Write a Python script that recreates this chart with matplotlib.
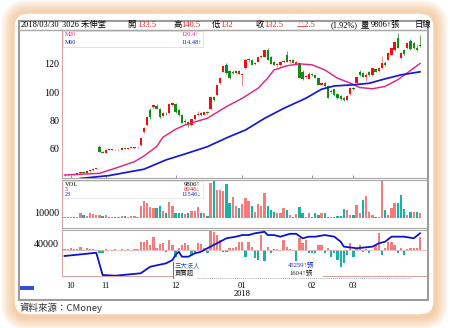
import matplotlib.pyplot as plt
from matplotlib.patches import Rectangle, FancyBboxPatch
from matplotlib.transforms import blended_transform_factory

# 3026 禾伸堂 daily bars, mid Oct 2017 .. 2018/03/30 (index = trading day)
opens = [41.5, 41.6, 41.8, 42.3, 42.1, 42.8, 43.6, 43.3, 44.2, 44.9,
         46.2, 61.6, 58.1, 57.3, 59.5, 59.4, 59.6, 59.2, 59.5, 60.6,
         60.0, 60.8, 60.7, 61.2, 62.5, 72.0, 77.0, 87.5, 89.5, 90.5,
         88.5, 83.0, 85.0, 85.5, 91.0, 92.0, 87.5, 84.0, 80.0, 79.0,
         77.0, 81.0, 84.0, 85.5, 84.2, 86.0, 88.0, 96.7, 98.0, 106.5,
         114.5, 119.4, 115.0, 114.5, 113.5, 115.2, 112.5, 117.0, 122.5, 123.0,
         119.8, 121.7, 125.0, 125.2, 130.0, 125.0, 121.5, 119.2, 119.0, 121.5,
         126.5, 122.0, 123.0, 120.2, 120.8, 114.5, 110.8, 109.6, 113.0, 112.3,
         110.2, 105.5, 106.6, 104.3, 100.0, 102.0, 98.6, 97.5, 96.3, 94.5,
         98.6, 103.0, 106.6, 114.5, 113.5, 111.0, 114.0, 112.0, 116.5, 114.8,
         117.0, 121.0, 122.9, 126.4, 130.0, 138.4, 124.3, 130.0, 131.0, 136.0,
         134.5, 131.0, 133.5]
highs = [42.0, 42.2, 42.5, 42.8, 43.0, 44.0, 44.0, 44.5, 45.2, 46.5,
         46.8, 62.5, 58.6, 59.9, 60.0, 59.9, 60.0, 59.8, 61.0, 60.9,
         60.6, 61.5, 61.4, 62.0, 68.5, 75.5, 82.6, 89.0, 92.0, 91.5,
         89.0, 85.8, 86.0, 92.0, 93.0, 92.5, 88.0, 84.5, 81.0, 79.5,
         81.5, 84.5, 87.0, 86.0, 86.2, 87.0, 97.0, 97.5, 105.5, 110.5,
         119.0, 120.5, 116.0, 115.5, 116.0, 115.8, 113.8, 123.2, 124.0, 123.6,
         121.2, 125.5, 126.0, 130.5, 131.0, 125.5, 122.0, 120.5, 122.2, 123.0,
         129.0, 123.0, 123.5, 122.0, 121.2, 116.0, 112.0, 114.0, 113.6, 113.0,
         110.8, 107.2, 107.0, 105.0, 102.0, 102.5, 99.5, 98.0, 97.0, 97.8,
         103.5, 104.0, 111.5, 115.5, 114.5, 113.5, 115.0, 117.5, 117.0, 118.0,
         125.5, 121.8, 128.2, 132.0, 136.0, 142.0, 128.5, 130.5, 135.0, 137.5,
         135.5, 133.5, 140.5]
lows = [41.0, 41.2, 41.5, 41.9, 41.9, 42.6, 43.0, 43.1, 44.0, 44.7,
        45.8, 57.8, 56.8, 57.0, 59.0, 59.0, 59.0, 58.8, 59.3, 59.8,
        59.7, 60.5, 60.3, 60.8, 62.3, 71.5, 76.5, 81.5, 89.0, 88.0,
        82.0, 82.5, 84.0, 85.0, 90.0, 85.5, 83.5, 78.0, 78.5, 75.6,
        76.5, 80.5, 83.5, 83.5, 83.8, 85.0, 87.5, 94.0, 97.5, 106.0,
        114.0, 113.0, 109.5, 113.0, 113.0, 112.8, 104.6, 116.5, 121.5, 119.0,
        119.2, 121.5, 124.0, 124.8, 122.5, 119.8, 119.0, 118.2, 118.5, 121.0,
        121.2, 121.0, 120.5, 119.5, 109.8, 109.0, 110.0, 109.2, 111.5, 110.0,
        105.0, 105.0, 104.0, 95.8, 99.5, 97.5, 95.5, 94.5, 94.0, 93.6,
        98.0, 101.5, 106.0, 111.5, 110.5, 108.0, 111.5, 111.5, 114.0, 114.5,
        116.5, 118.8, 122.5, 126.0, 129.5, 131.0, 123.5, 126.5, 130.5, 130.0,
        130.5, 129.5, 132.0]
closes = [41.6, 41.8, 42.3, 42.1, 42.8, 43.6, 43.3, 44.2, 44.9, 46.2,
          46.4, 58.1, 57.2, 59.6, 59.4, 59.6, 59.2, 59.5, 60.6, 60.0,
          60.3, 60.7, 61.2, 61.5, 68.0, 75.0, 82.5, 82.5, 90.8, 88.5,
          82.8, 85.2, 84.6, 91.8, 92.5, 86.0, 84.0, 78.3, 79.0, 77.0,
          81.0, 84.0, 84.8, 84.0, 86.0, 85.5, 96.7, 94.5, 105.4, 110.0,
          118.5, 113.5, 110.2, 113.6, 115.0, 113.0, 113.2, 122.9, 123.2, 119.4,
          120.8, 125.0, 125.5, 130.0, 123.0, 120.2, 119.4, 119.8, 121.7, 122.4,
          121.7, 122.5, 120.8, 121.5, 110.2, 109.6, 111.2, 113.0, 112.0, 110.2,
          105.4, 106.6, 104.3, 96.1, 101.0, 98.0, 96.0, 95.0, 94.5, 97.5,
          103.0, 102.0, 111.0, 112.0, 111.0, 112.0, 112.0, 117.0, 114.6, 117.5,
          120.8, 119.4, 127.8, 131.4, 135.6, 131.4, 127.8, 127.0, 134.5, 130.5,
          131.0, 130.0, 132.5]
volumes = [1500, 1200, 2000, 1500, 2500, 11000, 6000, 4000, 9000, 8000,
           6000, 6500, 4500, 5000, 2500, 2000, 2500, 2000, 4500, 3000,
           2500, 3500, 3000, 2500, 26000, 36000, 31000, 22000, 20000, 20000,
           26000, 15000, 10000, 33000, 26000, 10000, 10000, 11000, 8000, 11000,
           15000, 14000, 23000, 10000, 9000, 4000, 75000, 78000, 59000, 59000,
           57000, 73000, 32000, 44000, 24000, 20000, 30000, 41000, 35000, 26000,
           13000, 30000, 26000, 52000, 24000, 17000, 13000, 11000, 11000, 21000,
           16000, 6000, 2000, 8000, 23000, 10600, 2100, 9000, 2100, 9000,
           5700, 9000, 9000, 2100, 2100, 2100, 3500, 3500, 17700, 16300,
           5700, 5700, 27000, 10600, 37000, 46000, 12800, 5700, 2100, 1500,
           80000, 16300, 5700, 19800, 30500, 30500, 48000, 17700, 5700, 12800,
           12800, 12800, 9806]
# 三大法人買賣超 (張)
inst_net = [100, 150, 200, 100, 150, 400, -100, 200, 100, 150,
            -80, -400, -400, 150, 60, -60, 80, 50, 120, -60,
            80, 50, 100, 120, 1000, 1000, 1200, 600, 1600, 300,
            700, 800, -200, 1200, 600, -800, 200, 600, 800, 600,
            -600, -500, 800, 700, 300, -300, 2300, 2200, 1800, 1200,
            -200, -200, 200, 300, 400, 1000, 1000, -800, 1000, 400,
            -1000, -1200, 1800, -1400, 400, -400, 100, 150, -100, 1200,
            400, 100, -100, -1400, 1400, 800, 1200, -400, -400, -400,
            600, 600, -400, 200, -800, -400, -1200, -2000, -1600, -600,
            800, -800, 200, 600, -200, 100, -400, 50, 600, 2000,
            -600, 200, 1000, 1000, 600, -400, 200, -600, 100, 200,
            200, 300, 1604]
# 三大法人持股 (張), read at selected days
hold_x = [0, 10, 12, 16, 24, 27, 32, 34, 35, 36, 37, 39, 41, 43, 45, 47, 49, 51,
          54, 56, 58, 60, 63, 64, 66, 68, 71, 73, 75, 77, 79, 82, 85, 87, 88,
          92, 95, 97, 99, 101, 103, 107, 110, 112]
hold = [34100, 35700, 24760, 24420, 25600, 28840, 30500, 32140, 34600, 36200,
        33760, 33760, 35400, 36200, 37900, 39500, 41130, 42800,
        43600, 44400, 44400, 45260, 46000, 44400, 44400, 43600, 45000, 45000,
        42800, 43600, 43600, 44400, 43600, 41130, 38700,
        37900, 38370, 38700, 40330, 41130, 43600, 43600, 42800, 45259]
ma20_x = [0, 11, 16, 22, 25, 29, 31, 35, 38, 45, 51, 56, 61, 64, 66, 70,
          74, 78, 82, 86, 90, 93, 97, 101, 105, 110, 112]
ma20 = [41.6, 42.8, 46.4, 51.0, 55.0, 61.6, 68.3, 73.9, 77.0, 81.7, 89.9, 95.8,
        102.9, 110.0, 115.8, 118.7, 120.1, 119.4, 115.8, 110.0, 106.5, 103.4,
        102.5, 104.2, 108.9, 117.0, 120.4]
ma60_x = [5, 14, 25, 32, 38, 45, 51, 57, 63, 69, 76, 81, 85, 91, 96, 101, 106, 112]
ma60 = [39.2, 41.2, 45.7, 52.3, 56.5, 61.6, 67.8, 73.4, 81.6, 88.6, 95.8,
        102.2, 104.5, 105.3, 106.4, 109.5, 112.3, 114.48]
month_pos = [2, 13, 35, 56, 78, 91]
month_labels = ['10', '11', '12', '01', '02', '03']

W, H = 450, 328
RED, GREEN = '#f30d0d', '#148c14'
RED_WICK, GREEN_WICK = '#f08a8a', '#5fa85f'
PINK, TEAL = '#f47c7c', '#17b3a6'
M20C, M60C = '#e0257f', '#1818d4'
HRED, BLUE = '#dc1e1e', '#2028c0'
SERIF = ['Liberation Serif', 'Noto Sans CJK TC', 'DejaVu Sans']
CJK = ['Noto Sans CJK TC', 'DejaVu Sans']
plt.rcParams['font.family'] = SERIF

fig = plt.figure(figsize=(4.5, 3.28), dpi=100)


def rect(x0, y0, x1, y1):
    return [x0 / W, 1 - y1 / H, (x1 - x0) / W, (y1 - y0) / H]


bg = fig.add_axes([0, 0, 1, 1], zorder=0)
bg.set_xlim(0, W)
bg.set_ylim(H, 0)
bg.axis('off')

# soft orange glow around the card
for k in range(14, 0, -1):
    bg.add_patch(FancyBboxPatch((15 - k, 14 - k), 419 + 2 * k, 302 + 2 * k,
                                boxstyle=f'round,pad=0,rounding_size={13 + k}',
                                fc='#f6a862', ec='none', alpha=0.05))
bg.add_patch(FancyBboxPatch((14, 13), 420, 302, boxstyle='round,pad=0,rounding_size=14',
                            fc='white', ec='#f8d0ae', lw=1))

ax_p = fig.add_axes(rect(62, 30, 427, 178), zorder=5)
ax_v = fig.add_axes(rect(62, 180, 427, 227.5), zorder=5)
ax_i = fig.add_axes(rect(62, 230, 427, 276), zorder=5)
n = len(closes)
days = list(range(n))

for ax in (ax_p, ax_v, ax_i):
    ax.set_xlim(-0.8, n + 1.2)
    for side in ('top', 'bottom'):
        ax.spines[side].set_color('#a8a8a8')
    ax.spines['left'].set_color('#d6a4a4')
    ax.spines['right'].set_visible(False)
    ax.tick_params(axis='y', length=0, pad=2, labelsize=7.2)

# candles
up = [c >= o for o, c in zip(opens, closes)]
ax_p.vlines(days, lows, highs, colors=[RED_WICK if u else GREEN_WICK for u in up], lw=0.7)
ax_p.bar(days, [max(abs(c - o), 0.35) for o, c in zip(opens, closes)],
         bottom=[min(o, c) for o, c in zip(opens, closes)], width=0.72,
         color=[RED if u else GREEN for u in up], zorder=3)
ax_p.plot(ma20_x, ma20, color=M20C, lw=1.05, zorder=4)
ax_p.plot(ma60_x, ma60, color=M60C, lw=1.25, zorder=4)
ax_p.set_ylim(39.5, 144)
ax_p.set_yticks([60, 80, 100, 120])
ax_p.set_xticks(month_pos)
ax_p.tick_params(axis='x', direction='in', length=2.5, color='#999999', labelbottom=False)

# volume, coloured against the previous close
vcol = [PINK if (i == 0 and up[0]) or (i > 0 and closes[i] >= closes[i - 1]) else TEAL
        for i in days]
ax_v.bar(days, volumes, width=0.72, color=vcol)
ax_v.set_ylim(-21000, 80500)
ax_v.set_yticks([10000])
ax_v.set_xticks([])

# institutional net buy/sell and holdings
ax_i.bar(days, inst_net, width=0.72, color=[PINK if v >= 0 else TEAL for v in inst_net])
ax_i.axhline(0, color='#f0b4b4', lw=0.6)
ax_i.set_ylim(-3120, 2400)
ax_i.set_yticks([])
ax_i.spines['bottom'].set_color('#d6a4a4')
ax_i.set_xticks(month_pos, month_labels)
ax_i.tick_params(axis='x', length=0, pad=4, labelsize=6)
ax_h = ax_i.twinx()
ax_h.plot(hold_x, hold, color='#0a14d0', lw=1.3)
ax_h.set_ylim(24272, 46881)
for s in ax_h.spines.values():
    s.set_visible(False)
ax_h.yaxis.tick_left()
ax_h.set_yticks([40000])
ax_h.tick_params(axis='y', length=0, pad=2, labelsize=7.2)
year_tf = blended_transform_factory(ax_i.transData, fig.transFigure)
ax_i.text(56, 1 - 294 / H, '2018', transform=year_tf, ha='center', va='center', fontsize=6)

fg = fig.add_axes([0, 0, 1, 1], zorder=10)
fg.set_xlim(0, W)
fg.set_ylim(H, 0)
fg.axis('off')
fg.patch.set_alpha(0)

fg.add_patch(Rectangle((18.5, 20.5), 409, 279, fill=False, ec='#9c9c9c', lw=1.5))
fg.plot([19, 427], [30, 30], color='#a8a8a8', lw=1)

header = [(21, '2018/03/30', 'black'), (62, '3026 禾伸堂', 'black'),
          (127, '開', 'black'), (137, '133.5', HRED),
          (174, '高', 'black'), (181, '140.5', HRED),
          (212, '低', 'black'), (220, '132', HRED),
          (256, '收', 'black'), (264, '132.5', HRED),
          (297, '△2.5', HRED), (331, '(1.92%)', 'black'),
          (361, '量', 'black'), (371, '9806↑張', 'black'), (415, '日線', 'black')]
for x, s, c in header:
    fg.text(x, 25, s, fontsize=6, color=c, va='center', ha='left', clip_on=True)

# MA legend
fg.add_patch(Rectangle((63, 31), 140, 15.5, fc='white', ec='#d8d8d8', lw=0.5))
fg.text(64.5, 35, 'M20', fontsize=4.3, color=M20C, va='center')
fg.text(64.5, 42, 'M60', fontsize=4.3, color=M60C, va='center')
fg.text(199, 35, '120.4↑', fontsize=4.6, color=M20C, va='center', ha='right')
fg.text(202, 42, '114.48↑', fontsize=4.6, color=M60C, va='center', ha='right')

# volume legend
fg.add_patch(Rectangle((63, 181), 140, 17, fc='white', ec='#e0e0e0', lw=0.5))
for y, l, r, c in [(184.5, 'VOL', '9806↑', 'black'), (189.5, '5', '8946↓', HRED),
                   (194.3, '23', '11546↓', BLUE)]:
    fg.text(64.5, y, l, fontsize=4.6, color=c, va='center')
    fg.text(201, y, r, fontsize=4.8, color=c, va='center', ha='right')

# institutional legend
fg.add_patch(Rectangle((172.5, 261), 150, 16.5, fc='white', ec='none'))
fg.plot([172.7, 172.7], [261.5, 277.5], color='#555555', lw=0.6)
fg.plot([197, 410], [277.8, 277.8], color='#8a8a8a', lw=0.6, ls=(0, (1, 1.5)))
fg.text(174.5, 265.5, '三大法人', family=CJK, fontsize=4.6, color='#2b3fb0', va='center')
fg.text(174.5, 272.5, '買賣超', family=CJK, fontsize=4.6, color='#222222', va='center')
fg.text(288, 265.5, '45259↑張', fontsize=4.8, color=BLUE, va='center')
fg.text(289, 272.5, '1604↑張', fontsize=4.8, color='#222222', va='center')

fg.add_patch(Rectangle((20, 286), 14, 4, fc='#2f4fd8', ec='none'))
fg.text(20, 308, '資料來源：CMoney', family=CJK, fontsize=6.8, color='#333333', va='center')

fig.savefig('out.png', dpi=100)
